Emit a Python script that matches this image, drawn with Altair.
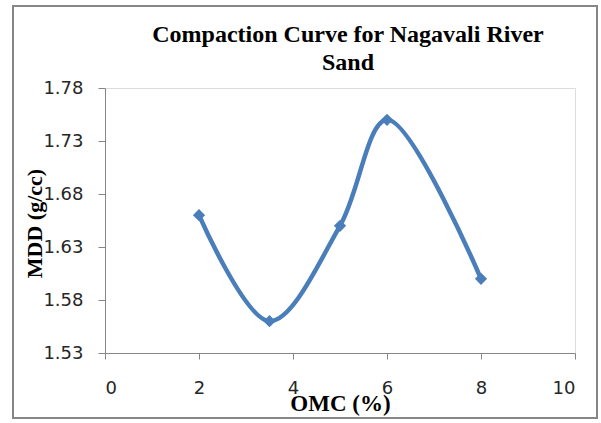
import altair as alt
import pandas as pd

# Optimum moisture content (%) and maximum dry density (g/cc)
omc = [2, 3.5, 5, 6, 8]
mdd = [1.66, 1.56, 1.65, 1.75, 1.60]

y_ticks = [1.53, 1.58, 1.63, 1.68, 1.73, 1.78]
x_ticks = [0, 2, 4, 6, 8, 10]

title_lines = ["Compaction Curve for Nagavali River", "Sand"]

df = pd.DataFrame({"omc": omc, "mdd": mdd})
title_df = pd.DataFrame({"t": [title_lines]})

blue = "#4a7ebb"
axis_gray = "#868686"
label_color = "#262626"

x_enc = alt.X(
    "omc:Q",
    scale=alt.Scale(domain=[0, 10], nice=False),
    axis=alt.Axis(
        values=x_ticks,
        title="OMC (%)",
        titleFont="Liberation Serif",
        titleFontSize=23,
        titleFontWeight="bold",
        titleColor="#000000",
        titleY=57,
        titleBaseline="alphabetic",
        titleX=235,
        labelFont="DejaVu Sans",
        labelFontSize=18,
        labelColor=label_color,
        labelPadding=20,
        tickSize=6,
        tickColor=axis_gray,
        domainColor=axis_gray,
        grid=False,
    ),
)
y_enc = alt.Y(
    "mdd:Q",
    scale=alt.Scale(domain=[1.53, 1.78], nice=False, zero=False),
    axis=alt.Axis(
        values=y_ticks,
        format=".2f",
        title="MDD (g/cc)",
        titleFont="Liberation Serif",
        titleFontSize=22,
        titleFontWeight="bold",
        titleColor="#000000",
        titleAngle=-90,
        titleX=-71,
        titleY=135,
        titleAlign="center",
        titleBaseline="middle",
        labelFont="DejaVu Sans",
        labelFontSize=18,
        labelColor=label_color,
        labelPadding=15,
        tickSize=7,
        tickColor=axis_gray,
        domainColor=axis_gray,
        grid=False,
    ),
)

curve = alt.Chart(df).mark_line(
    interpolate="catmull-rom", color=blue, strokeWidth=4.5
).encode(x=x_enc, y=y_enc)

points = alt.Chart(df).mark_point(
    shape="diamond", filled=True, color=blue, size=150, opacity=1
).encode(x="omc:Q", y="mdd:Q")

frame = alt.Chart(df).mark_rect(
    fill=None, stroke=axis_gray, strokeWidth=2
).encode(
    x=alt.value(-92), x2=alt.value(492), y=alt.value(-82), y2=alt.value(330)
)

heading = alt.Chart(title_df).mark_text(
    font="Liberation Serif",
    fontSize=24,
    fontWeight="bold",
    color="#000000",
    align="center",
    baseline="alphabetic",
    lineHeight=28,
).encode(text="t", x=alt.value(243), y=alt.value(-46))

chart = (
    alt.layer(frame, curve, points, heading)
    .properties(
        width=470,
        height=265,
        autosize=alt.AutoSizeParams(type="none"),
        padding={"left": 105, "top": 88, "right": 26, "bottom": 70},
    )
    .configure_view(stroke=None)
    .configure(background="white")
)

chart.save("out.html", embed_options={"renderer": "svg", "actions": False})
